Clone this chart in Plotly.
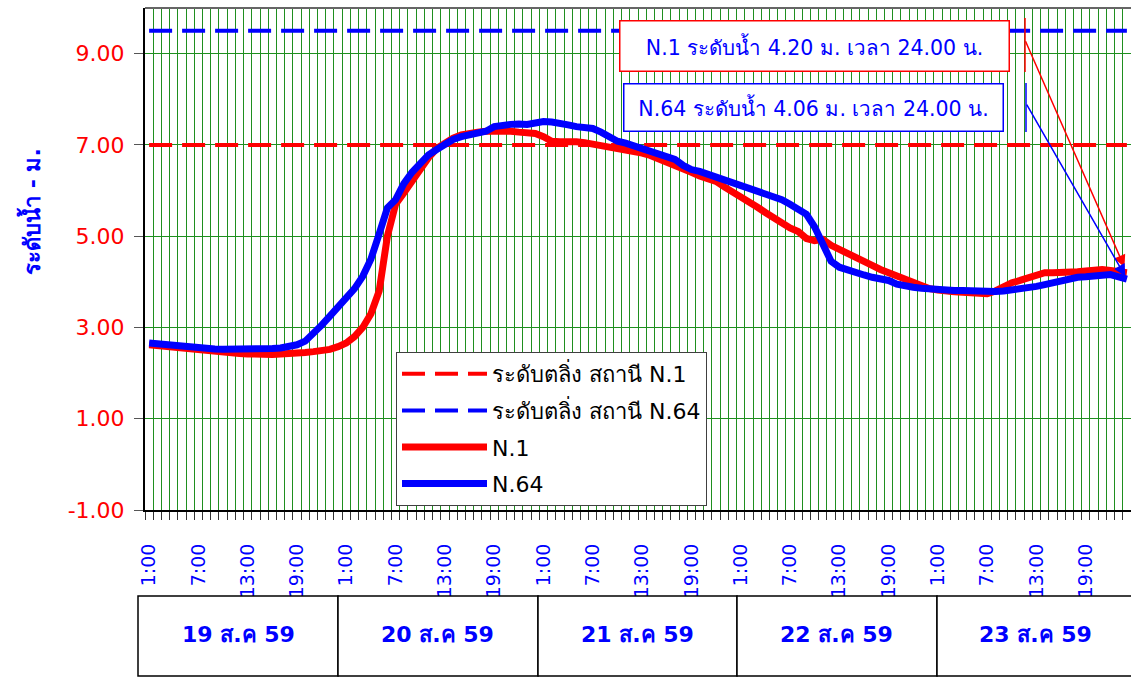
import plotly.graph_objects as go
import pandas as pd

# ---------------- data ----------------
times = pd.date_range("2016-08-19 01:00", periods=120, freq="h")

n1 = [2.62, 2.60, 2.58, 2.56, 2.54, 2.52, 2.50, 2.48, 2.46, 2.45, 2.44, 2.43,
      2.42, 2.41, 2.41, 2.41, 2.42, 2.42, 2.43, 2.45, 2.47, 2.49, 2.52, 2.58,
      2.66, 2.80, 3.00, 3.30, 3.80, 5.00, 5.70, 5.95, 6.20, 6.50, 6.72, 6.92,
      7.05, 7.15, 7.22, 7.26, 7.28, 7.30, 7.31, 7.31, 7.30, 7.28, 7.27, 7.25,
      7.18, 7.08, 7.07, 7.08, 7.07, 7.05, 7.02, 6.98, 6.93, 6.90, 6.87, 6.85,
      6.82, 6.77, 6.70, 6.64, 6.58, 6.50, 6.40, 6.32, 6.26, 6.20, 6.08, 5.98,
      5.87, 5.76, 5.64, 5.52, 5.40, 5.28, 5.18, 5.10, 4.95, 4.90, 4.93, 4.80,
      4.72, 4.63, 4.55, 4.45, 4.36, 4.27, 4.20, 4.13, 4.05, 3.98, 3.90, 3.85,
      3.82, 3.79, 3.78, 3.77, 3.76, 3.75, 3.74, 3.80, 3.90, 3.98, 4.03, 4.10,
      4.17, 4.20, 4.20, 4.20, 4.21, 4.22, 4.24, 4.26, 4.27, 4.25, 4.22, 4.20]

n64 = [2.66, 2.64, 2.62, 2.60, 2.58, 2.57, 2.55, 2.54, 2.53, 2.52, 2.52, 2.51,
       2.51, 2.51, 2.52, 2.54, 2.55, 2.57, 2.62, 2.70, 2.85, 3.05, 3.25, 3.45,
       3.65, 3.85, 4.12, 4.50, 5.05, 5.62, 5.80, 6.15, 6.40, 6.62, 6.78, 6.90,
       7.02, 7.12, 7.18, 7.23, 7.27, 7.30, 7.40, 7.44, 7.45, 7.46, 7.45, 7.48,
       7.51, 7.50, 7.48, 7.44, 7.40, 7.38, 7.36, 7.28, 7.18, 7.08, 7.04, 6.98,
       6.92, 6.86, 6.78, 6.72, 6.68, 6.55, 6.46, 6.42, 6.36, 6.30, 6.22, 6.15,
       6.08, 6.02, 5.96, 5.90, 5.85, 5.80, 5.70, 5.58, 5.48, 5.20, 4.80, 4.45,
       4.32, 4.25, 4.20, 4.15, 4.10, 4.07, 4.03, 3.95, 3.90, 3.88, 3.86, 3.84,
       3.83, 3.82, 3.81, 3.81, 3.80, 3.79, 3.79, 3.79, 3.80, 3.82, 3.84, 3.86,
       3.90, 3.94, 3.98, 4.05, 4.09, 4.10, 4.11, 4.12, 4.14, 4.16, 4.11, 4.06]

crit_n1 = 7.00
crit_n64 = 9.50

day_labels = ["19 ส.ค 59", "20 ส.ค 59", "21 ส.ค 59", "22 ส.ค 59", "23 ส.ค 59"]
tick_hours = [1, 7, 13, 19]
y_ticks = [-1, 1, 3, 5, 7, 9]
y_title = "ระดับน้ำ - ม."

series_names = ["ระดับตลิ่ง สถานี N.1", "ระดับตลิ่ง สถานี N.64", "N.1", "N.64"]
note_n1 = "N.1 ระดับน้ำ 4.20 ม. เวลา 24.00 น."
note_n64 = "N.64 ระดับน้ำ 4.06 ม. เวลา 24.00 น."

# ---------------- layout helpers ----------------
W, H = 1131, 677
PL, PR, PT, PB = 145, 1131, 8, 510


def px(xp):
    return (xp - PL) / (PR - PL)


def py(yp):
    return (PB - yp) / (PB - PT)


FONT = "Tahoma, 'DejaVu Sans', sans-serif"

fig = go.Figure()

fig.add_trace(go.Scatter(x=times, y=[crit_n1] * len(times), mode="lines",
                         name=series_names[0], legendgroup="a",
                         line=dict(color="#ff0000", width=4, dash="23px,10px")))
fig.add_trace(go.Scatter(x=times, y=[crit_n64] * len(times), mode="lines",
                         name=series_names[1], legendgroup="b",
                         line=dict(color="#0000ff", width=4, dash="23px,10px")))
fig.add_trace(go.Scatter(x=times, y=n1, mode="lines", name=series_names[2], legendgroup="c",
                         line=dict(color="#ff0000", width=7)))
fig.add_trace(go.Scatter(x=times, y=n64, mode="lines", name=series_names[3], legendgroup="d",
                         line=dict(color="#0000ff", width=7)))

tickvals = [t for t in times if t.hour in tick_hours]
ticktext = [f"{t.hour}:00" for t in tickvals]

fig.update_xaxes(
    range=[times[0] - pd.Timedelta(minutes=30), times[-1] + pd.Timedelta(minutes=30)],
    tickvals=tickvals, ticktext=ticktext, tickangle=-90,
    tickfont=dict(color="#0000ff", size=19, family=FONT),
    ticks="", ticklabelstandoff=24,
    showgrid=False, zeroline=False,
    showline=True, linecolor="black", linewidth=2,
    minor=dict(tick0=times[0] - pd.Timedelta(minutes=30), dtick=3600000,
               showgrid=True, gridcolor="#1f8f1f", gridwidth=1,
               ticks="outside", ticklen=8, tickcolor="#333333", tickwidth=1),
)
fig.update_yaxes(
    range=[-1, 10], tickvals=y_ticks, ticktext=[f"{v:.2f}" for v in y_ticks],
    tickfont=dict(color="#ff0000", size=22, family=FONT),
    ticks="outside", ticklen=9, tickcolor="#555555", ticklabelstandoff=5,
    showgrid=True, gridcolor="#1f8f1f", gridwidth=1, zeroline=False,
    showline=True, linecolor="black", linewidth=2,
)

shapes = []
# top frame line
shapes.append(dict(type="line", xref="paper", yref="paper", x0=0, x1=1, y0=1, y1=1,
                   line=dict(color="#666666", width=2)))
# date boxes
edges = [138, 338, 538, 737, 937, 1136]
for i in range(len(day_labels)):
    shapes.append(dict(type="rect", xref="paper", yref="paper",
                       x0=px(edges[i]), x1=px(edges[i + 1]), y0=py(676), y1=py(596),
                       line=dict(color="black", width=1.5), fillcolor="white", layer="above"))
# little leader ticks near notes
shapes.append(dict(type="line", xref="paper", yref="paper", x0=px(1025), x1=px(1025),
                   y0=py(18), y1=py(72), line=dict(color="#ff0000", width=1.5)))
shapes.append(dict(type="line", xref="paper", yref="paper", x0=px(1026), x1=px(1026),
                   y0=py(83), y1=py(132), line=dict(color="#0000ff", width=1.5)))

annotations = []
# y axis title
annotations.append(dict(xref="paper", yref="paper", x=px(30), y=py(212), text=f"<b>{y_title}</b>",
                        textangle=-90, showarrow=False, xanchor="center", yanchor="middle",
                        font=dict(color="#0000ff", size=22, family=FONT)))
centers = [238, 437, 637, 836, 1035]
for lab, cx in zip(day_labels, centers):
    annotations.append(dict(xref="paper", yref="paper", x=px(cx), y=py(634), text=f"<b>{lab}</b>",
                            xanchor="center", yanchor="middle",
                            showarrow=False, font=dict(color="#0000ff", size=22, family=FONT)))

annotations.append(dict(xref="paper", yref="paper", x=px(814.5), y=py(46), text=note_n1,
                        showarrow=False, font=dict(color="#0000ff", size=20.5, family=FONT),
                        bgcolor="white", bordercolor="#ff0000", borderwidth=1.5, borderpad=0,
                        width=388, height=49, xanchor="center", yanchor="middle"))
annotations.append(dict(xref="paper", yref="paper", x=px(813.5), y=py(107.5), text=note_n64,
                        showarrow=False, font=dict(color="#0000ff", size=20.5, family=FONT),
                        bgcolor="white", bordercolor="#0000ff", borderwidth=1.5, borderpad=0,
                        width=378, height=46, xanchor="center", yanchor="middle"))
# arrows pointing at the last values
annotations.append(dict(x=times[-1], y=n1[-1], xref="x", yref="y", text="", showarrow=True,
                        ax=-102, ay=-233, arrowcolor="#ff0000", arrowwidth=1.5,
                        arrowhead=2, arrowsize=1.6, standoff=6))
annotations.append(dict(x=times[-1], y=n64[-1], xref="x", yref="y", text="", showarrow=True,
                        ax=-101, ay=-176, arrowcolor="#0000ff", arrowwidth=1.5,
                        arrowhead=2, arrowsize=1.6, standoff=3))

fig.update_layout(
    width=W, height=H, autosize=False,
    margin=dict(l=PL, r=W - PR, t=PT, b=H - PB, autoexpand=False),
    paper_bgcolor="white", plot_bgcolor="white",
    font=dict(family=FONT, color="black"),
    showlegend=True,
    legend=dict(x=px(396), y=py(352), xanchor="left", yanchor="top",
                bgcolor="white", bordercolor="#404040", borderwidth=1,
                font=dict(size=22, color="black", family=FONT),
                itemwidth=85, tracegroupgap=5),
    shapes=shapes, annotations=annotations,
)

fig.write_html("out.html", config={"responsive": False, "displayModeBar": False},
               post_script="document.body.style.margin='0px';document.body.style.overflow='hidden';")
